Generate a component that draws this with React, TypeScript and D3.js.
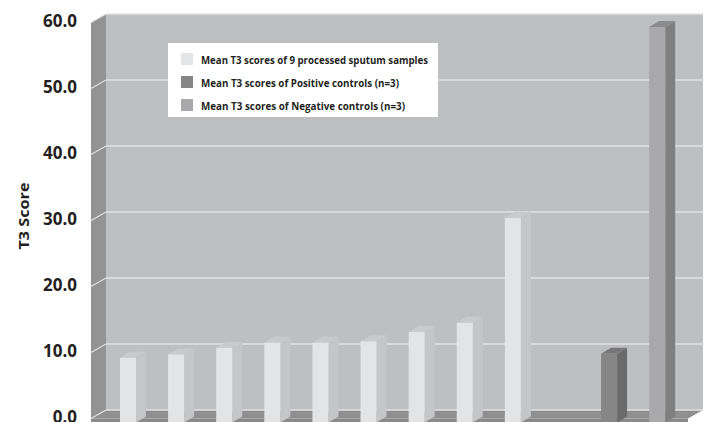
import React from 'react';
import * as d3 from 'd3';

// ---- data ----
const categories = ['S1', 'S2', 'S3', 'S4', 'S5', 'S6', 'S7', 'S8', 'S9', 'gap', 'Positive', 'Negative'];
const sampleCategories = ['S1', 'S2', 'S3', 'S4', 'S5', 'S6', 'S7', 'S8', 'S9'];
const sampleValues = [9.2, 9.7, 10.7, 11.5, 11.5, 11.7, 13.1, 14.5, 30.4];
const positiveValues = [9.8];
const negativeValues = [59.3];
const yTicks = [0, 10, 20, 30, 40, 50, 60];
const legendLabels = [
  'Mean T3 scores of 9 processed sputum samples',
  'Mean T3 scores of Positive controls (n=3)',
  'Mean T3 scores of Negative controls (n=3)',
];
const legendWidths = [227, 198, 204];

const W = 707;
const H = 422;
const WALL_DX = 15;
const WALL_DY = 8.5;
const BACK_L = 106;
const BACK_R = 703;
const BAR_DX = 10;
const BAR_DY = 6;

const colors = {
  sample: { front: '#e3e4e6', side: '#c5c6c8', top: '#c9cacc' },
  positive: { front: '#868686', side: '#6b6b6b', top: '#777777' },
  negative: { front: '#a9a9ab', side: '#7f7f7f', top: '#8c8c8c' },
};

export default function App() {
  const yBack = d3.scaleLinear().domain([0, 60]).range([410, 14]);
  const yFront = (v: number) => yBack(v) + WALL_DY;
  const x = d3
    .scaleBand<string>()
    .domain(categories)
    .range([104, 681.2])
    .paddingInner(0.667)
    .paddingOuter(0.333);
  const bw = x.bandwidth();

  type Bar = { cat: string; value: number; kind: 'sample' | 'positive' | 'negative' };
  const bars: Bar[] = [
    ...sampleCategories.map((c, i) => ({ cat: c, value: sampleValues[i], kind: 'sample' as const })),
    ...positiveValues.map((v) => ({ cat: 'Positive', value: v, kind: 'positive' as const })),
    ...negativeValues.map((v) => ({ cat: 'Negative', value: v, kind: 'negative' as const })),
  ];

  const base = yFront(0) + 4;
  const frontL = BACK_L - WALL_DX;
  const frontR = BACK_R - WALL_DX;
  const pts = (a: [number, number][]) => a.map((p) => p.join(',')).join(' ');
  const font = "'Open Sans', 'DejaVu Sans', sans-serif";

  return (
    <svg
      width={W}
      height={H}
      style={{ position: 'absolute', left: 0, top: 0, background: '#ffffff' }}
    >
      {/* back wall */}
      <rect x={BACK_L} y={yBack(60)} width={BACK_R - BACK_L} height={yBack(0) - yBack(60)} fill="#bebfc1" />
      {/* side wall */}
      <polygon
        points={pts([
          [frontL, yFront(60)],
          [BACK_L, yBack(60)],
          [BACK_L, yBack(0)],
          [frontL, yFront(0)],
        ])}
        fill="#939393"
      />
      {/* floor */}
      <polygon
        points={pts([
          [BACK_L, yBack(0)],
          [BACK_R, yBack(0)],
          [frontR, yFront(0)],
          [frontL, yFront(0)],
        ])}
        fill="#8f8f8f"
      />
      <rect x={frontL} y={yFront(0)} width={frontR - frontL} height={6} fill="#8a8a8a" />
      {/* gridlines */}
      {yTicks.map((t) => (
        <g key={t}>
          <line x1={BACK_L} x2={BACK_R} y1={yBack(t)} y2={yBack(t)} stroke="#e2e2e3" strokeWidth={1.5} />
          <line x1={frontL} x2={BACK_L} y1={yFront(t)} y2={yBack(t)} stroke="#e2e2e3" strokeWidth={1.2} />
        </g>
      ))}
      {/* bars */}
      {bars.map((b) => {
        const x0 = x(b.cat) as number;
        const x1 = x0 + bw;
        const top = yFront(b.value);
        const c = colors[b.kind];
        return (
          <g key={b.cat}>
            <polygon
              points={pts([
                [x1, top],
                [x1 + BAR_DX, top - BAR_DY],
                [x1 + BAR_DX, base - BAR_DY],
                [x1, base],
              ])}
              fill={c.side}
            />
            <polygon
              points={pts([
                [x0, top],
                [x0 + BAR_DX, top - BAR_DY],
                [x1 + BAR_DX, top - BAR_DY],
                [x1, top],
              ])}
              fill={c.top}
            />
            <rect x={x0} y={top} width={bw} height={base - top} fill={c.front} />
          </g>
        );
      })}
      {/* legend */}
      <rect x={168} y={43} width={270} height={74} fill="#ffffff" />
      {legendLabels.map((l, i) => {
        const sw = [colors.sample.front, colors.positive.front, colors.negative.front][i];
        const y0 = 53 + i * 23;
        return (
          <g key={l}>
            <rect x={181} y={y0} width={12} height={12} fill={sw} />
            <text
              x={201}
              y={y0 + 11}
              fontFamily={font}
              fontWeight="bold"
              fontSize={11}
              fill="#231f20"
              textLength={legendWidths[i]}
              lengthAdjust="spacingAndGlyphs"
            >
              {l}
            </text>
          </g>
        );
      })}
      {/* y axis labels */}
      {yTicks.map((t) => (
        <text
          key={'l' + t}
          x={77}
          y={yFront(t) + 4}
          textAnchor="end"
          fontFamily={font}
          fontWeight="bold"
          fontSize={17}
          fill="#231f20"
        >
          {d3.format('.1f')(t)}
        </text>
      ))}
      <text
        transform={`translate(29, 216) rotate(-90)`}
        textAnchor="middle"
        fontFamily={font}
        fontWeight="bold"
        fontSize={15}
        fill="#231f20"
        textLength={67}
        lengthAdjust="spacingAndGlyphs"
      >
        T3 Score
      </text>
    </svg>
  );
}
